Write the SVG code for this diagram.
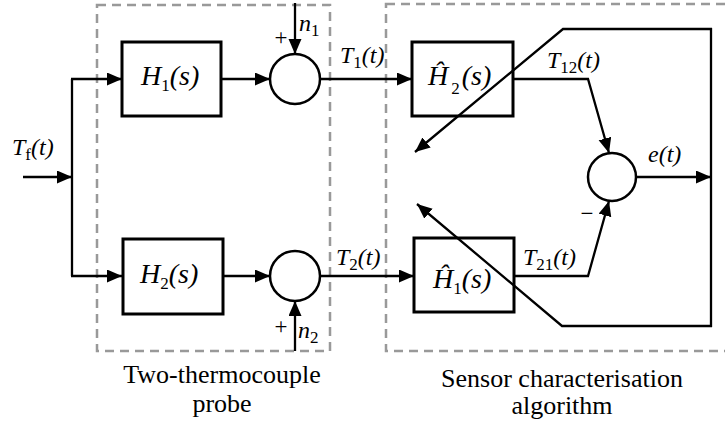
<svg xmlns="http://www.w3.org/2000/svg" width="725" height="427" viewBox="0 0 725 427" font-family="'Liberation Serif', 'Times New Roman', serif">
<defs>
<marker id="arr" markerUnits="userSpaceOnUse" markerWidth="16" markerHeight="14" refX="15" refY="6.5" orient="auto">
<path d="M0,0 L15,6.5 L0,13 z" fill="#000"/>
</marker>
<style>
.dash{fill:none;stroke:#999;stroke-width:2.5;stroke-dasharray:9 6}
.blk{fill:#fff;stroke:#000;stroke-width:3}
.sum{fill:#fff;stroke:#000;stroke-width:2.5}
.ln{fill:none;stroke:#000;stroke-width:2.3}
.ar{marker-end:url(#arr)}
text{font-family:'Liberation Serif','Times New Roman',serif;fill:#000}
.m{font-style:italic}
.lbl{font-size:28px}
.sig{font-size:24px}
.op{font-size:23px;font-style:normal}
.sub{font-style:normal;font-size:17px}
.cap{font-size:26px}
</style>
</defs>
<rect width="725" height="427" fill="#fff"/>

<g id="probe-frame">
<rect class="dash" x="97" y="5" width="233" height="346"/>
<text class="cap" x="222" y="383" text-anchor="middle">Two-thermocouple</text>
<text class="cap" x="222" y="412" text-anchor="middle">probe</text>
</g>
<g id="algorithm-frame">
<rect class="dash" x="386" y="4" width="360" height="347"/>
<text class="cap" x="562" y="387" text-anchor="middle">Sensor characterisation</text>
<text class="cap" x="562" y="414" text-anchor="middle">algorithm</text>
</g>

<g id="Tf-label">
<text class="sig m" x="12" y="155">T<tspan class="sub" dy="5">f</tspan><tspan dy="-5">(t)</tspan></text>
</g>

<g id="H1">
<rect class="blk" x="122" y="42" width="99" height="74"/>
<text class="lbl m" x="141" y="85">H<tspan class="sub" dy="6">1</tspan><tspan dy="-6">(s)</tspan></text>
</g>
<g id="H2">
<rect class="blk" x="123" y="239" width="100" height="75"/>
<text class="lbl m" x="140" y="283">H<tspan class="sub" dy="6">2</tspan><tspan dy="-6">(s)</tspan></text>
</g>

<g id="sum1">
<circle class="sum" cx="295" cy="79" r="25"/>
<text class="op" x="281" y="45" text-anchor="middle">+</text>
<text class="sig m" x="299" y="31">n<tspan class="sub" dy="5">1</tspan></text>
</g>
<g id="sum2">
<circle class="sum" cx="295" cy="276" r="25"/>
<text class="op" x="281" y="334" text-anchor="middle">+</text>
<text class="sig m" x="298" y="338">n<tspan class="sub" dy="5">2</tspan></text>
</g>

<g id="T1-label">
<text class="sig m" x="340" y="63">T<tspan class="sub" dy="5">1</tspan><tspan dy="-5">(t)</tspan></text>
</g>
<g id="T2-label">
<text class="sig m" x="336" y="265">T<tspan class="sub" dy="5">2</tspan><tspan dy="-5">(t)</tspan></text>
</g>

<g id="H2hat">
<rect class="blk" x="412" y="42" width="101" height="74"/>
<text class="lbl m" x="428" y="85">Ĥ<tspan class="sub" dx="3" dy="9">2</tspan><tspan dx="2" dy="-9">(s)</tspan></text>
</g>
<g id="H1hat">
<rect class="blk" x="414" y="238" width="100" height="74"/>
<text class="lbl m" x="433" y="288">Ĥ<tspan class="sub" dy="6">1</tspan><tspan dy="-6">(s)</tspan></text>
</g>

<g id="T12-label">
<text class="sig m" x="547" y="68">T<tspan class="sub" dy="5">12</tspan><tspan dy="-5">(t)</tspan></text>
</g>
<g id="T21-label">
<text class="sig m" x="523" y="265">T<tspan class="sub" dy="5">21</tspan><tspan dy="-5">(t)</tspan></text>
</g>

<g id="sum3">
<circle class="sum" cx="612" cy="177" r="24"/>
<text class="op" x="587" y="221" text-anchor="middle">−</text>
</g>
<g id="e-label">
<text class="sig m" x="648" y="162">e(t)</text>
</g>

<g id="connectors">
<line class="ln ar" x1="23" y1="177" x2="72" y2="177"/>
<polyline class="ln" points="72,79 72,276"/>
<polyline class="ln ar" points="71,79 122,79"/>
<polyline class="ln ar" points="71,276 122,276"/>
<line class="ln ar" x1="221" y1="79" x2="270" y2="79"/>
<line class="ln ar" x1="222" y1="276" x2="270" y2="276"/>
<line class="ln ar" x1="295" y1="3" x2="295" y2="54"/>
<line class="ln ar" x1="295" y1="351" x2="295" y2="301"/>
<line class="ln ar" x1="320" y1="79" x2="412" y2="79"/>
<line class="ln ar" x1="320" y1="276" x2="414" y2="276"/>
<polyline class="ln ar" points="513,79 588,79 609,153"/>
<polyline class="ln ar" points="514,276 588,276 609,201"/>
<line class="ln ar" x1="636" y1="177" x2="711" y2="177"/>
<line class="ln" x1="711" y1="28" x2="711" y2="327"/>
<polyline class="ln ar" points="712,29 563,29 415,152"/>
<polyline class="ln ar" points="712,326 562,326 417,204"/>
</g>
</svg>
